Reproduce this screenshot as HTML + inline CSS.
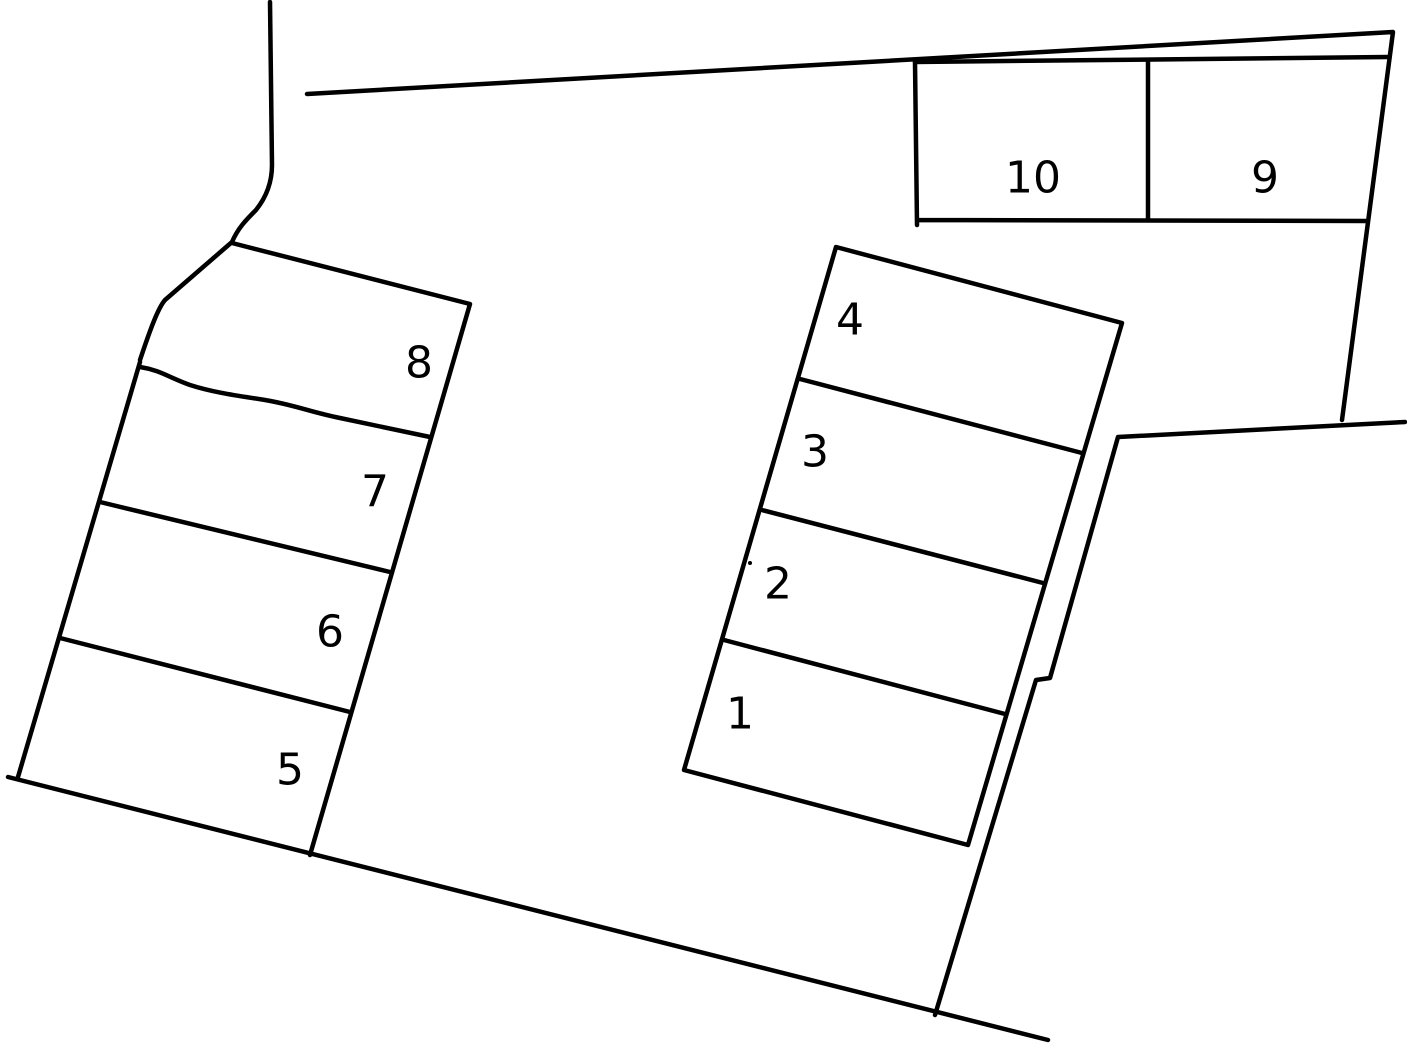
<!DOCTYPE html>
<html><head><meta charset="utf-8"><style>
html,body{margin:0;padding:0;background:#fff;}
svg{display:block}
text{font-family:"DejaVu Sans","Liberation Sans",sans-serif;font-size:44px;fill:#000;text-anchor:middle;dominant-baseline:central}
</style></head><body>
<svg width="1407" height="1043" viewBox="0 0 1407 1043" xmlns="http://www.w3.org/2000/svg">
<g fill="none" stroke="#000" stroke-width="4.5" stroke-linecap="round" stroke-linejoin="round">
<path d="M270,2 L272,165 C272,185 264,200 256,210 C246,220 238,228 232,242 L165,300 C158,308 150,330 140,360"/>
<path d="M307,94 L1393,32 L1342,420"/>
<path d="M915,62 L1388,57"/>
<path d="M915,62 L917,225 M917,220 L1367,221 M1148,62 L1148,218"/>
<path d="M1405,422 L1118,437 L1050,678 L1036,680 L935,1015"/>
<path d="M8,777 L1048,1040"/>
<path d="M140,362 L18,777"/>
<path d="M232,243 L470,304 L310,855"/>
<path d="M140,367 C160,370 170,378 190,385 C215,393 240,396 265,400 C295,405 310,412 340,418 L430,437"/>
<path d="M100,502 L390,572 M60,638 L350,712"/>
<path d="M836,247 L684,770 L968,845 L1122,323 Z"/>
<path d="M800,379 L1082,453 M762,510 L1043,583 M724,640 L1005,714"/>
</g>
<circle cx="750" cy="563" r="2" fill="#000"/>
<text x="1033" y="178">10</text>
<text x="1265" y="178">9</text>
<text x="419" y="363">8</text>
<text x="375" y="492">7</text>
<text x="330" y="632">6</text>
<text x="290" y="770">5</text>
<text x="850" y="320">4</text>
<text x="815" y="452">3</text>
<text x="778" y="584">2</text>
<text x="740" y="714">1</text>
</svg>
</body></html>
